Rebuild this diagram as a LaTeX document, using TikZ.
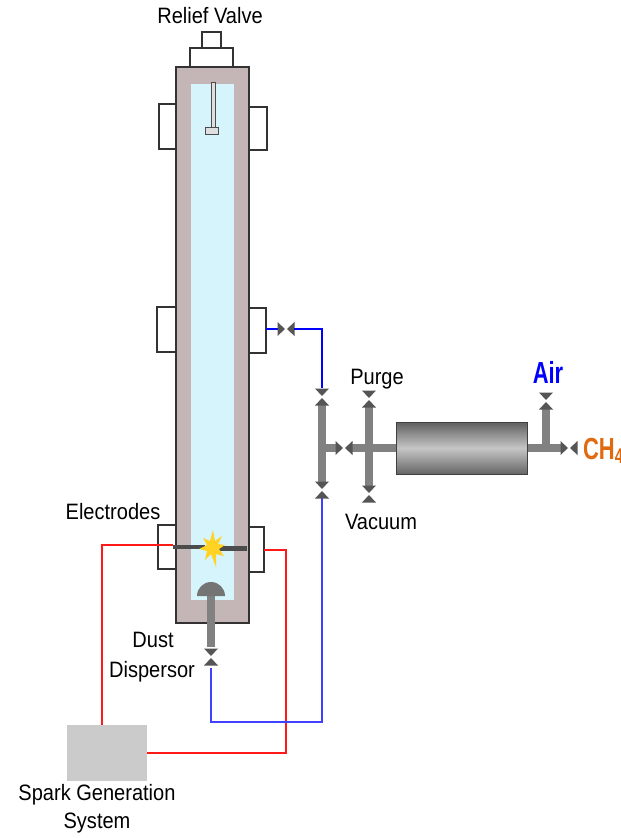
\documentclass[tikz,border=0pt]{standalone}
\usepackage{fontspec}
\setmainfont{Liberation Sans}[FakeStretch=0.9]
\newfontfamily\gasfont{Liberation Sans}[FakeStretch=0.72]
\usetikzlibrary{positioning}

\definecolor{wallpink}{HTML}{C4B6B6}
\definecolor{gascyan}{HTML}{D6F4FC}
\definecolor{valvegray}{HTML}{555555}
\definecolor{pipegray}{HTML}{818181}
\definecolor{methane}{HTML}{E06A10}
\definecolor{sparkyellow}{HTML}{FFD224}
\definecolor{sparkbox}{HTML}{CBCBCB}

% two triangles tip to tip
\tikzset{
	valve/.pic={
		\fill[valvegray] (-8.5,-7) -- (-1,0) -- (-8.5,7) -- cycle;
		\fill[valvegray] ( 8.5,-7) -- ( 1,0) -- ( 8.5,7) -- cycle;
	}
}

\begin{document}
\begin{tikzpicture}[x=0.03cm, y=-0.03cm, font=\fontsize{19}{22}\selectfont,
	wall/.style={draw=black!80, fill=wallpink, line width=1.1pt},
	flange/.style={draw=black!80, fill=white, line width=0.9pt},
	pipe/.style={draw=pipegray, line width=6pt},
	ventline/.style={draw=blue, line width=2pt},
	feedline/.style={draw=blue!75, line width=1.3pt},
	sparkline/.style={draw=red!90, line width=1.5pt},
	gaslabel/.style={font=\gasfont\bfseries\fontsize{26}{28}\selectfont}]
	\useasboundingbox (0,0) rectangle (621,838);

	% vessel
	\draw[wall] (176,67) rectangle (249,623);
	\fill[gascyan] (191,84) rectangle (234,600);

	% relief valve on top
	\draw[flange] (190,48) rectangle (233,67);
	\draw[flange] (202,32) rectangle (221,48);
	\draw[draw=black!70, fill=gray!25, line width=0.6pt] (211,82) rectangle (215,127);
	\draw[draw=black!70, fill=gray!25, line width=0.6pt] (205,127) rectangle (218,134);

	% flanges
	\draw[flange] (159,104) rectangle (176,149);
	\draw[flange] (249,107) rectangle (267,150);
	\draw[flange] (157,307) rectangle (176,352);
	\draw[flange] (249,308) rectangle (266,353);
	\draw[flange] (158,525) rectangle (176,569);
	\draw[flange] (249,527) rectangle (264,572);

	% electrodes and spark
	\coordinate (elecleft) at (173,545);
	\coordinate (elecright) at (264,550);
	\fill[black!70] (173,545) rectangle (205,549);
	\fill[black!70] (218,545.5) rectangle (247,550.5);
	\fill[sparkyellow] (225,545) -- (218,544) -- (222,536) -- (215,541) -- (213,530)
		-- (210,541) -- (203,538) -- (207,545) -- (199,549) -- (207,551) -- (205,560)
		-- (211,554) -- (216,567) -- (216,554) -- (224,556) -- (219,549) -- cycle;

	% spark generator
	\node (spark) at (107,753) [fill=sparkbox, minimum width=2.4cm, minimum height=1.68cm, inner sep=0pt] {};
	\node (sparklabel) at (97,795) {Spark Generation};
	\node (system) at (97,823) {System};
	\draw[sparkline] (elecleft) -| ([xshift=-0.15cm]spark.north);
	\draw[sparkline] (elecright) -- (286,550) |- (spark.east);

	% dust dispersor
	\coordinate (domebase) at (211,596);
	\coordinate (duststem) at (211,647);
	\coordinate (dustvalve) at (211,657);
	\coordinate (dustout) at (211,668);
	\draw[pipe] (domebase) -- (duststem);
	\fill[pipegray!90!black] (197,596) arc[start angle=180, end angle=360, radius=14] -- cycle;
	\pic[rotate=90] at (dustvalve) {valve};

	% vent line from the middle flange
	\coordinate (ventflange) at (266,329);
	\coordinate (ventvalve) at (286,329);
	\coordinate (ventin) at (278,329);
	\coordinate (ventout) at (294,329);
	\draw[ventline] (ventflange) -- (ventin);
	\pic at (ventvalve) {valve};

	% manifold
	\coordinate (mfoldtop) at (322,397);
	\coordinate (mfoldbot) at (322,490);
	\coordinate (mfoldlowin) at (322,498);
	\draw[ventline] (ventout) -| (322,388);
	\draw[feedline] (dustout) -- ++(0,54) -| (mfoldlowin);
	\draw[pipe] (322,405) -- (322,482);
	\pic[rotate=90] at (mfoldtop) {valve};
	\pic[rotate=90] at (mfoldbot) {valve};

	% purge / vacuum branch
	\coordinate (purgetop) at (369,399);
	\coordinate (purgebot) at (369,494);
	\coordinate (mixvalve) at (344,448);
	\draw[pipe] (319,448) -- (336,448);
	\draw[pipe] (352,448) -- (397,448);
	\draw[pipe] (369,407) -- (369,486);
	\pic at (mixvalve) {valve};
	\pic[rotate=90] at (purgetop) {valve};
	\pic[rotate=90] at (purgebot) {valve};

	% mixing tank
	\coordinate (airvalve) at (546,401);
	\coordinate (ch4valve) at (569,448);
	\draw[pipe] (526,448) -- (561,448);
	\draw[pipe] (546,451) -- (546,409);
	\shade[top color=gray!75!black, bottom color=gray!80!black, middle color=gray!45, draw=gray!50!black, line width=0.5pt]
		(396,422) rectangle (527,474);
	\pic[rotate=90] at (airvalve) {valve};
	\pic at (ch4valve) {valve};

	% labels
	\node (relief) at (210,16) {Relief Valve};
	\node (electrodes) at (113,512) {Electrodes};
	\node (dust) at (153,640) {Dust};
	\node (dispersor) at (152,672) {Dispersor};
	\node (purge) at (377,379) {Purge};
	\node (vacuum) at (381,522) {Vacuum};
	\node (air) at (548,372) [gaslabel, text=blue] {Air};
	\node (ch4) at (579,451) [gaslabel, anchor=west, text=methane] {CH\textsubscript{4}};
\end{tikzpicture}
\end{document}
